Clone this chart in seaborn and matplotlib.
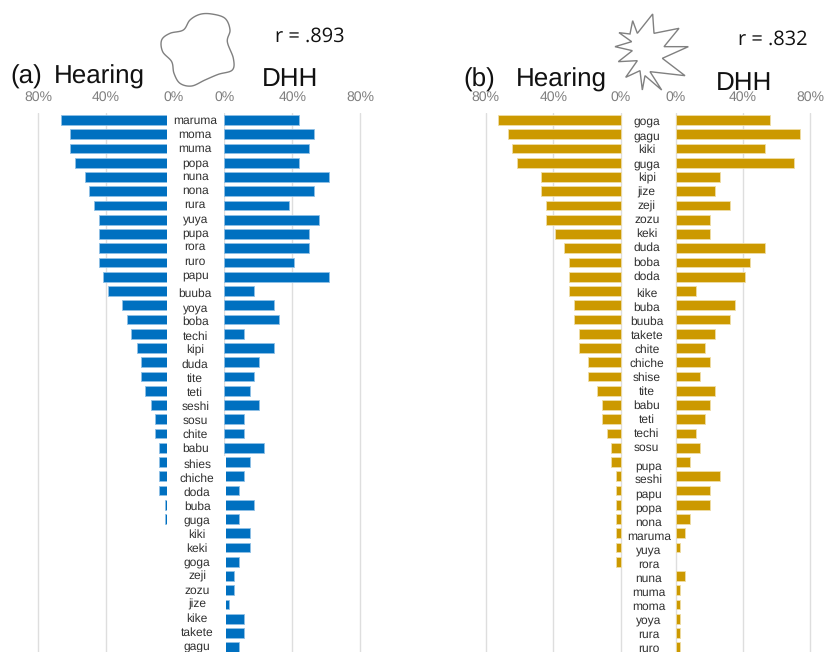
import numpy as np
import pandas as pd
import matplotlib
matplotlib.use("Agg")
import matplotlib.pyplot as plt
from matplotlib.patches import Rectangle, Polygon
import seaborn as sns

words_a = ["maruma","moma","muma","popa","nuna","nona","rura","yuya","pupa","rora","ruro","papu","buuba",
           "yoya","boba","techi","kipi","duda","tite","teti","seshi","sosu","chite","babu","shies","chiche",
           "doda","buba","guga","kiki","keki","goga","zeji","zozu","jize","kike","takete","gagu"]
hearing_a = [66.7,61.4,61.4,58.2,52.5,49.9,47.3,44.2,44.2,44.2,44.2,41.7,39.1,
             30.8,27.6,25.1,21.9,19.3,19.3,16.8,13.6,11.1,11.1,8.5,8.5,8.5,
             8.5,5.1,5.1,0,0,0,0,0,0,0,0,0]
dhh_a = [44.1,52.8,50,44.1,61.8,52.8,38.2,55.7,50,50,41,61.8,17.5,
         29.2,32.4,11.8,29.2,20.6,17.5,14.9,20.6,11.8,11.8,23.5,14.9,11.8,
         8.8,17.6,8.8,14.9,14.9,8.8,5.9,5.9,2.9,11.8,11.8,8.8]

words_b = ["goga","gagu","kiki","guga","kipi","jize","zeji","zozu","keki","duda","boba","doda","kike",
           "buba","buuba","takete","chite","chiche","shise","tite","babu","teti","techi","sosu","pupa","seshi",
           "papu","popa","nona","maruma","yuya","rora","nuna","muma","moma","yoya","rura","ruro"]
hearing_b = [72.6,67,64.3,61.4,47.3,47.3,44.6,44.6,39,33.7,30.8,30.8,30.8,
             28,28,24.9,24.9,19.7,19.7,14,11.4,11.4,8.3,5.7,5.7,3,
             3,3,3,3,3,3,0,0,0,0,0,0]
dhh_b = [56.1,73.7,53,70.5,26.3,23.6,32.4,20.6,20.6,53,44.3,41.1,12,
         35.4,32.4,23.6,17.6,20.6,14.5,23.6,20.6,17.6,12,14.5,8.8,26.3,
         20.6,20.6,8.8,5.6,2.5,0,5.6,2.5,2.5,2.5,2.5,2.5]

x_ticks = [0, 40, 80]
tick_labels = ["0%", "40%", "80%"]

BLUE, BLUE_EDGE = "#0070C0", "#8FC0E6"
GOLD, GOLD_EDGE = "#CC9900", "#EFDDA6"
W, H = 826, 652
FIRST, STEP = 120.0, 14.25
TOP = 112.5

sns.set_theme(style="white")
plt.rcParams["font.family"] = ["Liberation Sans", "DejaVu Sans"]
plt.rcParams["text.hinting"] = "no_hinting"
plt.rcParams["text.hinting_factor"] = 1
fig = plt.figure(figsize=(W / 100, H / 100), dpi=100)


def half(words, values, zero, scale, inverted, color, edge):
    lo, hi = -2, 82
    if inverted:
        left, right = zero - hi * scale, zero - lo * scale
    else:
        left, right = zero + lo * scale, zero + hi * scale
    ax = fig.add_axes([left / W, 0, (right - left) / W, (H - TOP) / H])
    df = pd.DataFrame({"word": words, "pct": values})
    sns.barplot(data=df, y="word", x="pct", order=words, orient="h", color=color, saturation=1,
                width=0.7, edgecolor=edge, linewidth=0.6, ax=ax, zorder=3)
    for p in ax.patches:
        if p.get_width() == 0:
            p.set_visible(False)
    ax.set_xlim((hi, lo) if inverted else (lo, hi))
    ax.set_ylim((H - FIRST) / STEP, (TOP - FIRST) / STEP)
    ax.set_yticks([])
    ax.set(xlabel="", ylabel="")
    ax.set_xticks(x_ticks)
    ax.set_xticklabels(tick_labels)
    ax.xaxis.tick_top()
    ax.tick_params(axis="x", length=0, pad=6, labelsize=10.1, labelcolor="#7F7F7F")
    ax.grid(axis="x", color="#DEDEDE", lw=1)
    ax.grid(axis="y", visible=False)
    ax.set_axisbelow(True)
    for s in ax.spines.values():
        s.set_visible(False)
    ax.patch.set_alpha(0)
    return ax


half(words_a, hearing_a, 173.7, 1.6925, True, BLUE, BLUE_EDGE)
half(words_a, dhh_a, 224.3, 1.70, False, BLUE, BLUE_EDGE)
half(words_b, hearing_b, 621.0, 1.691, True, GOLD, GOLD_EDGE)
half(words_b, dhh_b, 675.5, 1.685, False, GOLD, GOLD_EDGE)

# overlay in pixel coordinates for the annotations
ov = fig.add_axes([0, 0, 1, 1], zorder=10)
ov.set_xlim(0, W)
ov.set_ylim(H, 0)
ov.axis("off")
ov.patch.set_alpha(0)
ov.add_patch(Rectangle((167.3, TOP), 56.4, H - TOP, fc="white", ec="none", zorder=1))
ov.add_patch(Rectangle((223.5, 456), 2.1, H - 456, fc="white", ec="none", zorder=1))


def row_labels(words, base, cx, jump1, jump2):
    for i, w in enumerate(words):
        y = base + 14.04 * i + (jump1 if i >= 12 else 0) + (jump2 if i >= 24 else 0)
        x = cx + (2 if i >= 24 else 0)
        ov.text(x, y + 4, w, ha="center", va="baseline", fontsize=8.5, color="#303030", zorder=3)


row_labels(words_a, 120.0, 195.3, 4.8, 1.7)
row_labels(words_b, 121.0, 646.8, 3.2, 4.1)

for x, y, s in [(10, 83.5, "(a)"), (54, 83.5, "Hearing"), (261.5, 86, "DHH"),
                (463, 87, "(b)"), (516, 87, "Hearing"), (716, 89.5, "DHH")]:
    ov.text(x, y, s, ha="left", va="baseline", fontsize=18.8, color="#111111", zorder=3)

for x, y, s in [(275, 41.3, "r = .893"), (738.5, 44.3, "r = .832")]:
    ov.text(x, y, s, ha="left", va="baseline", fontsize=14.5, color="#111111",
            family="Open Sans", zorder=3)

# decorative stimulus outlines
blob = np.array([(185,27),(225,40),(240,75),(232,110),(250,160),(247,195),(205,208),(165,225),
                 (125,243),(90,235),(72,205),(65,170),(38,140),(35,105),(60,85),(100,75),
                 (120,45),(150,28)], float)
blob = np.c_[150 + blob[:, 0] / 3, 5 + blob[:, 1] / 3]
p0, p1, p2, p3 = [np.roll(blob, k, axis=0) for k in (1, 0, -1, -2)]
t = np.linspace(0, 1, 12, endpoint=False)[:, None, None]
curve = 0.5 * (2 * p1 + (p2 - p0) * t + (2 * p0 - 5 * p1 + 4 * p2 - p3) * t ** 2
               + (3 * p1 - p0 - 3 * p2 + p3) * t ** 3)
curve = curve.transpose(1, 0, 2).reshape(-1, 2)
ov.add_patch(Polygon(curve, closed=True, fc="none", ec="#808080", lw=1.0, zorder=2))

star = np.array([(143,27),(147,85),(222,70),(177,125),(250,125),(172,160),(240,212),(135,200),
                 (170,255),(120,212),(112,255),(105,197),(62,217),(97,167),(40,170),(82,137),
                 (30,125),(80,110),(42,83),(75,87),(83,47),(97,85)], float)
star = np.c_[605 + star[:, 0] / 3, 5 + star[:, 1] / 3]
ov.add_patch(Polygon(star, closed=True, fc="none", ec="#808080", lw=1.0, zorder=2))

fig.savefig("out.png", dpi=100, facecolor="white")
